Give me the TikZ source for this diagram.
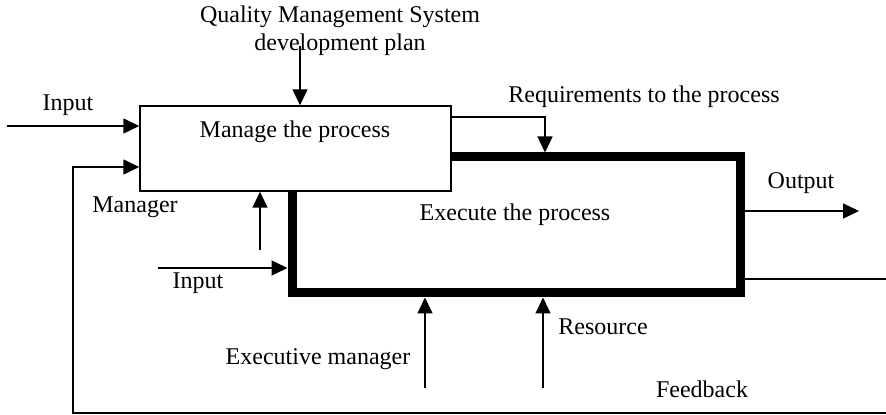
\documentclass[tikz,border=0pt]{standalone}
\usepackage{fontspec}
\setmainfont{Liberation Serif}
\usetikzlibrary{arrows.meta,positioning}
\tikzset{
  conn/.style={line width=0.7pt},
  arr/.style={conn, -{Triangle[length=8pt,width=7.5pt]}},
  lbl/.style={inner sep=0pt, font=\fontsize{12}{14}\selectfont, align=center}
}
\begin{document}
\begin{tikzpicture}[x=0.5pt, y=-0.5pt]
\useasboundingbox (0,0) rectangle (886,415);
\node [draw, line width=4.5pt, minimum width=224pt, minimum height=68pt] (exec) at (516,225) {};
\node [draw, fill=white, line width=0.7pt, minimum width=155.5pt, minimum height=42.5pt] (manage) at (295.5,148.5) {};
\node [lbl] (managetxt) at (295,132) {Manage the process};
\node [lbl] (exectxt) at (515,215) {Execute the process};
\node [lbl] (qmstxt) at (340,31) {Quality Management System\\ development plan};
\node [lbl] (in1txt) at (68,105) {Input};
\node [lbl] (mgrtxt) at (135,207) {Manager};
\node [lbl] (in2txt) at (198,283) {Input};
\node [lbl] (reqtxt) at (644,97) {Requirements to the process};
\node [lbl] (outtxt) at (801,183) {Output};
\node [lbl] (emtxt) at (318,359) {Executive manager};
\node [lbl] (restxt) at (603,327) {Resource};
\node [lbl] (fbtxt) at (702,389) {Feedback};
\coordinate (qms) at (300,46);
\coordinate (in1) at (7,126);
\coordinate (mgr) at (260,250);
\coordinate (in2) at (158,268);
\coordinate (em) at (425,388);
\coordinate (res) at (543,388);
\coordinate (fb) at (886,413);
\coordinate (fbcorner) at (73,413);
\draw [arr] (qms) -- (qms |- manage.north);
\draw [arr] (in1) -- (in1 -| manage.west);
\draw [arr] (fb) -- (fbcorner) |- (manage.west |- 0,167);
\draw [arr] (mgr) -- (mgr |- manage.south);
\draw [arr] (in2) -- (in2 -| exec.west);
\draw [arr] (manage.east |- 0,117) -| (exec.north -| 545,0);
\draw [arr] (exec.east |- 0,211) -- (859,211);
\draw [conn] (exec.east |- 0,279) -- (886,279);
\draw [arr] (em) -- (em |- exec.south);
\draw [arr] (res) -- (res |- exec.south);
\end{tikzpicture}
\end{document}
